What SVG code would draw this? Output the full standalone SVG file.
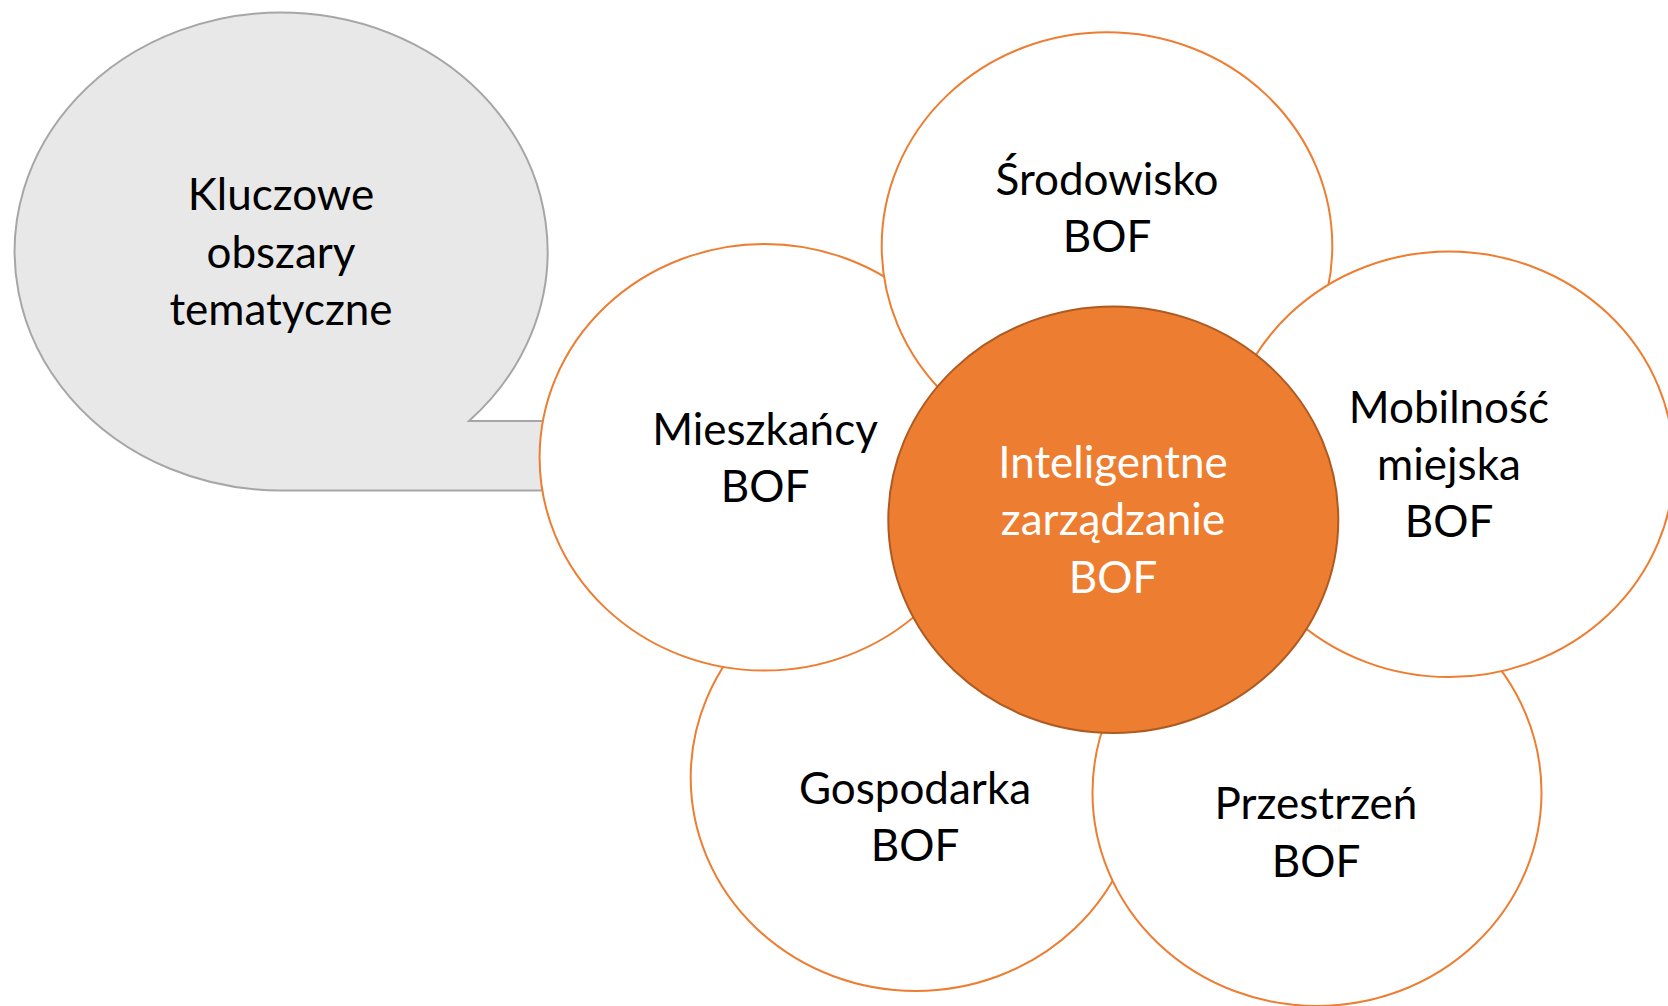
<svg xmlns="http://www.w3.org/2000/svg" width="1668" height="1006" viewBox="0 0 1668 1006">
<style>
.lbl{font-family:Lato,"Liberation Sans",sans-serif;font-size:44px;text-anchor:middle;fill:#000}
.wht{fill:#fff}
.petal{fill:#fff;stroke:#ED7D31;stroke-width:2}
.hub{fill:#ED7D31;stroke:#AE5A21;stroke-width:2}
.callout{fill:#E8E8E8;stroke:#A6A6A6;stroke-width:2}
</style>
<g id="callout">
<path class="callout" d="M 281.4 490.5 A 266.5 239 0 1 1 469 421 L 548 421 L 548 490.5 Z"/>
<text class="lbl" x="281" y="210">Kluczowe</text>
<text class="lbl" x="281" y="267.5">obszary</text>
<text class="lbl" x="281" y="325">tematyczne</text>
</g>
<g id="connectors"></g>
<g id="gospodarka">
<ellipse class="petal" cx="915.7" cy="777.5" rx="225" ry="213.5"/>
<text class="lbl" x="915" y="804">Gospodarka</text>
<text class="lbl" x="915" y="861">BOF</text>
</g>
<g id="przestrzen">
<ellipse class="petal" cx="1317" cy="792.5" rx="224.5" ry="213.5"/>
<text class="lbl" x="1316" y="819">Przestrzeń</text>
<text class="lbl" x="1316" y="876.5">BOF</text>
</g>
<g id="mieszkancy">
<ellipse class="petal" cx="764.6" cy="457.3" rx="225" ry="213.3"/>
<text class="lbl" x="765" y="445">Mieszkańcy</text>
<text class="lbl" x="765" y="501.5">BOF</text>
</g>
<g id="srodowisko">
<ellipse class="petal" cx="1107" cy="246" rx="225.3" ry="213.7"/>
<text class="lbl" x="1107" y="195">Środowisko</text>
<text class="lbl" x="1107" y="251.5">BOF</text>
</g>
<g id="mobilnosc">
<ellipse class="petal" cx="1449" cy="464.3" rx="225" ry="212.8"/>
<text class="lbl" x="1449" y="423">Mobilność</text>
<text class="lbl" x="1449" y="480">miejska</text>
<text class="lbl" x="1449" y="537">BOF</text>
</g>
<g id="inteligentne">
<ellipse class="hub" cx="1113.3" cy="519.7" rx="225" ry="213.3"/>
<text class="lbl wht" x="1113" y="478">Inteligentne</text>
<text class="lbl wht" x="1113" y="535">zarządzanie</text>
<text class="lbl wht" x="1113" y="592.5">BOF</text>
</g>
</svg>
